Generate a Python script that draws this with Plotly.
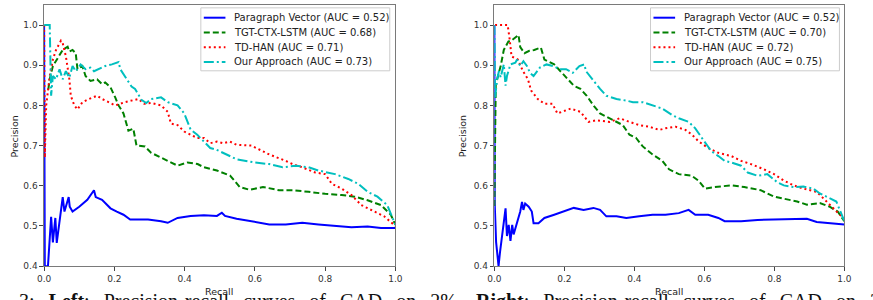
import plotly.graph_objects as go

# ---------------- data ----------------
labels_left = ["Paragraph Vector (AUC = 0.52)", "TGT-CTX-LSTM (AUC = 0.68)",
               "TD-HAN (AUC = 0.71)", "Our Approach (AUC = 0.73)"]
labels_right = ["Paragraph Vector (AUC = 0.52)", "TGT-CTX-LSTM (AUC = 0.70)",
                "TD-HAN (AUC = 0.72)", "Our Approach (AUC = 0.75)"]

# Left panel
L_pv_r = [0, 0.002, 0.011, 0.02, 0.025, 0.032, 0.036, 0.053, 0.058, 0.07, 0.073, 0.081, 0.10, 0.123,
          0.142, 0.147, 0.165, 0.189, 0.207, 0.226, 0.245, 0.296, 0.333, 0.352, 0.38, 0.417, 0.455,
          0.492, 0.506, 0.515, 0.548, 0.585, 0.641, 0.688, 0.735, 0.781, 0.828, 0.875, 0.921, 0.959, 1.0]
L_pv_p = [1.0, 0.40, 0.40, 0.523, 0.459, 0.52, 0.458, 0.572, 0.536, 0.572, 0.548, 0.536, 0.548, 0.565,
          0.589, 0.572, 0.565, 0.544, 0.536, 0.528, 0.516, 0.516, 0.512, 0.508, 0.52, 0.525, 0.527,
          0.525, 0.533, 0.525, 0.518, 0.512, 0.504, 0.504, 0.508, 0.504, 0.501, 0.497, 0.499, 0.495, 0.495]

L_tgt_r = [0.012, 0.016, 0.025, 0.039, 0.053, 0.067, 0.072, 0.081, 0.09, 0.095, 0.109, 0.118, 0.132,
           0.151, 0.165, 0.174, 0.189, 0.2025, 0.212, 0.226, 0.24, 0.254, 0.263, 0.287, 0.305, 0.352,
           0.38, 0.408, 0.437, 0.455, 0.492, 0.53, 0.557, 0.585, 0.623, 0.669, 0.707, 0.753, 0.8,
           0.847, 0.884, 0.921, 0.959, 0.987, 1.0]
L_tgt_p = [0.84, 0.865, 0.898, 0.918, 0.938, 0.946, 0.934, 0.938, 0.93, 0.89, 0.898, 0.873, 0.861,
           0.865, 0.853, 0.857, 0.845, 0.82, 0.80, 0.78, 0.737, 0.742, 0.70, 0.698, 0.682, 0.662,
           0.65, 0.658, 0.654, 0.646, 0.638, 0.625, 0.597, 0.59, 0.597, 0.589, 0.589, 0.585, 0.58,
           0.577, 0.573, 0.564, 0.552, 0.528, 0.503]

L_td_r = [0, 0.002, 0.006, 0.011, 0.016, 0.025, 0.034, 0.048, 0.053, 0.062, 0.067, 0.072, 0.076, 0.086,
          0.095, 0.109, 0.128, 0.151, 0.165, 0.184, 0.2025, 0.23, 0.268, 0.285, 0.305, 0.333, 0.352,
          0.361, 0.38, 0.399, 0.417, 0.436, 0.455, 0.473, 0.492, 0.51, 0.529, 0.548, 0.59, 0.641,
          0.688, 0.707, 0.735, 0.772, 0.8, 0.819, 0.847, 0.875, 0.903, 0.93, 0.968, 1.0]
L_td_p = [1.0, 0.67, 0.80, 0.84, 0.873, 0.914, 0.938, 0.961, 0.955, 0.922, 0.898, 0.865, 0.824, 0.80,
          0.79, 0.808, 0.816, 0.824, 0.816, 0.808, 0.80, 0.808, 0.816, 0.804, 0.806, 0.80, 0.784,
          0.755, 0.751, 0.735, 0.727, 0.719, 0.719, 0.706, 0.71, 0.706, 0.71, 0.702, 0.70, 0.678,
          0.662, 0.654, 0.646, 0.633, 0.629, 0.605, 0.593, 0.577, 0.552, 0.54, 0.524, 0.50]

L_our_r = [0, 0.016, 0.02, 0.025, 0.034, 0.044, 0.053, 0.062, 0.072, 0.081, 0.09, 0.104, 0.118, 0.132,
           0.142, 0.156, 0.174, 0.193, 0.212, 0.217, 0.235, 0.249, 0.259, 0.277, 0.291, 0.305, 0.333,
           0.352, 0.38, 0.399, 0.417, 0.436, 0.455, 0.473, 0.49, 0.548, 0.6, 0.641, 0.679, 0.716,
           0.753, 0.781, 0.828, 0.866, 0.894, 0.921, 0.949, 0.977, 1.0]
L_our_p = [1.0, 1.0, 0.824, 0.873, 0.865, 0.89, 0.865, 0.885, 0.869, 0.898, 0.885, 0.902, 0.89, 0.894,
           0.885, 0.89, 0.898, 0.902, 0.908, 0.89, 0.865, 0.847, 0.841, 0.814, 0.806, 0.816, 0.82,
           0.808, 0.80, 0.78, 0.74, 0.727, 0.71, 0.694, 0.69, 0.666, 0.658, 0.654, 0.646, 0.65,
           0.646, 0.638, 0.629, 0.617, 0.605, 0.585, 0.573, 0.552, 0.503]

# Right panel
R_pv_r = [0, 0.001, 0.005, 0.012, 0.016, 0.022, 0.032, 0.036, 0.041, 0.046, 0.051, 0.055, 0.065, 0.074,
          0.079, 0.083, 0.088, 0.098, 0.107, 0.112, 0.126, 0.143, 0.171, 0.208, 0.227, 0.255, 0.283,
          0.302, 0.32, 0.349, 0.377, 0.414, 0.452, 0.489, 0.527, 0.555, 0.574, 0.611, 0.64, 0.658,
          0.705, 0.752, 0.799, 0.846, 0.893, 0.921, 0.958, 1.0]
R_pv_p = [1.0, 0.556, 0.46, 0.40, 0.434, 0.475, 0.544, 0.475, 0.503, 0.463, 0.503, 0.479, 0.51, 0.536,
          0.56, 0.54, 0.556, 0.548, 0.536, 0.507, 0.507, 0.52, 0.528, 0.54, 0.545, 0.54, 0.545,
          0.54, 0.524, 0.524, 0.52, 0.524, 0.528, 0.528, 0.532, 0.54, 0.528, 0.528, 0.52, 0.512,
          0.512, 0.515, 0.516, 0.518, 0.518, 0.51, 0.508, 0.504]

R_tgt_r = [0, 0.004, 0.008, 0.018, 0.027, 0.04, 0.051, 0.069, 0.074, 0.086, 0.1, 0.114, 0.133, 0.143,
           0.171, 0.189, 0.208, 0.227, 0.246, 0.264, 0.283, 0.302, 0.32, 0.349, 0.367, 0.386, 0.405,
           0.424, 0.452, 0.48, 0.499, 0.527, 0.564, 0.583, 0.602, 0.63, 0.677, 0.714, 0.761, 0.799,
           0.837, 0.865, 0.893, 0.93, 0.958, 0.981, 1.0]
R_tgt_p = [0.55, 0.85, 0.865, 0.898, 0.938, 0.959, 0.963, 0.975, 0.945, 0.93, 0.936, 0.938, 0.944, 0.914,
           0.902, 0.885, 0.865, 0.849, 0.841, 0.824, 0.80, 0.78, 0.772, 0.759, 0.751, 0.727, 0.719,
           0.698, 0.678, 0.662, 0.641, 0.629, 0.625, 0.613, 0.593, 0.597, 0.601, 0.597, 0.589, 0.573,
           0.565, 0.561, 0.553, 0.557, 0.548, 0.536, 0.512]

R_td_r = [0.002, 0.038, 0.044, 0.049, 0.067, 0.082, 0.096, 0.105, 0.124, 0.143, 0.166, 0.18, 0.218,
          0.246, 0.269, 0.292, 0.33, 0.358, 0.386, 0.414, 0.442, 0.471, 0.489, 0.518, 0.546, 0.565,
          0.583, 0.602, 0.611, 0.64, 0.677, 0.705, 0.733, 0.77, 0.799, 0.827, 0.855, 0.883, 0.921,
          0.949, 0.968, 0.987, 1.0]
R_td_p = [1.0, 1.0, 0.963, 0.922, 0.914, 0.885, 0.865, 0.837, 0.816, 0.804, 0.804, 0.78, 0.792,
          0.784, 0.759, 0.763, 0.759, 0.768, 0.759, 0.751, 0.747, 0.739, 0.743, 0.747, 0.739, 0.727,
          0.711, 0.698, 0.694, 0.682, 0.674, 0.662, 0.654, 0.641, 0.629, 0.613, 0.601, 0.593, 0.585,
          0.561, 0.544, 0.528, 0.52]

R_our_r = [0, 0.002, 0.008, 0.013, 0.018, 0.027, 0.032, 0.036, 0.046, 0.06, 0.065, 0.074, 0.083, 0.093,
           0.102, 0.112, 0.13, 0.149, 0.168, 0.187, 0.205, 0.224, 0.243, 0.257, 0.262, 0.28, 0.302,
           0.32, 0.349, 0.377, 0.396, 0.424, 0.452, 0.48, 0.508, 0.527, 0.555, 0.574, 0.593, 0.611,
           0.62, 0.64, 0.658, 0.677, 0.705, 0.724, 0.752, 0.78, 0.808, 0.827, 0.855, 0.883, 0.911,
           0.93, 0.958, 0.977, 1.0]
R_our_p = [1.0, 0.82, 0.865, 0.885, 0.87, 0.902, 0.849, 0.873, 0.902, 0.906, 0.914, 0.898, 0.91, 0.898,
           0.881, 0.873, 0.894, 0.902, 0.898, 0.89, 0.89, 0.881, 0.898, 0.902, 0.885, 0.865, 0.841,
           0.824, 0.816, 0.812, 0.808, 0.808, 0.80, 0.792, 0.776, 0.768, 0.759, 0.743, 0.719, 0.698,
           0.686, 0.674, 0.662, 0.658, 0.65, 0.633, 0.625, 0.629, 0.609, 0.601, 0.597, 0.598, 0.593,
           0.581, 0.569, 0.561, 0.512]

x_ticks = [0.0, 0.2, 0.4, 0.6, 0.8, 1.0]
y_ticks = [0.4, 0.5, 0.6, 0.7, 0.8, 0.9, 1.0]
caption_words = ["3:", "<b>Left</b>:", "Precision-recall", "curves", "of", "CAD", "on", "2%.",
                 "<b>Right</b>:", "Precision-recall", "curves", "of", "CAD", "on", "2"]

# ---------------- styling ----------------
W, H = 873, 300
colors = ["#0000ff", "#008000", "#ff0000", "#00bfbf"]
dashes = ["solid", "6px,3px", "2px,3px", "10px,3px,2px,3px"]
FONT = "DejaVu Sans"

fig = go.Figure()
left = [(L_pv_r, L_pv_p), (L_tgt_r, L_tgt_p), (L_td_r, L_td_p), (L_our_r, L_our_p)]
right = [(R_pv_r, R_pv_p), (R_tgt_r, R_tgt_p), (R_td_r, R_td_p), (R_our_r, R_our_p)]
for i, (r, p) in enumerate(left):
    fig.add_trace(go.Scatter(x=r, y=p, mode="lines", name=labels_left[i], showlegend=False,
                             line=dict(color=colors[i], width=2, dash=dashes[i]),
                             xaxis="x", yaxis="y"))
for i, (r, p) in enumerate(right):
    fig.add_trace(go.Scatter(x=r, y=p, mode="lines", name=labels_right[i], showlegend=False,
                             line=dict(color=colors[i], width=2, dash=dashes[i]),
                             xaxis="x2", yaxis="y2"))

y_dom = [1 - 270.7 / H, 1 - 5 / H]
axis_common = dict(showgrid=False, zeroline=False, showline=True, mirror=True,
                   linecolor="#7a7a7a", linewidth=1.2, ticks="outside", ticklen=3.5,
                   tickcolor="#444", tickfont=dict(family=FONT, size=9, color="#333"),
                   tickformat=".1f")
fig.update_layout(
    width=W, height=H, margin=dict(l=0, r=0, t=0, b=0),
    paper_bgcolor="white", plot_bgcolor="white", showlegend=False,
    xaxis=dict(domain=[37.7 / W, 394.7 / W], range=[0, 1], tickvals=x_ticks, anchor="y", **axis_common),
    yaxis=dict(domain=y_dom, range=[0.4, 1.05], tickvals=y_ticks, anchor="x", **axis_common),
    xaxis2=dict(domain=[495.3 / W, 851 / W], range=[0, 1], tickvals=x_ticks, anchor="y2", **axis_common),
    yaxis2=dict(domain=y_dom, range=[0.4, 1.05], tickvals=y_ticks, anchor="x2", **axis_common),
)

# ---- legend boxes (matplotlib-style, drawn in pixel-derived paper coords) ----
def px(x):
    return x / W


def py(y):
    return 1 - y / H


legend_specs = [(197, 389, 200, 229, labels_left), (654, 846, 657, 686, labels_right)]
row_y = [18, 33, 48, 63]
for box_l, box_r, samp_l, text_l, labs in legend_specs:
    fig.add_shape(type="rect", xref="paper", yref="paper", x0=px(box_l), x1=px(box_r),
                  y0=py(72), y1=py(8), fillcolor="rgba(255,255,255,0.9)",
                  line=dict(color="#cccccc", width=1), layer="above")
    for i, lab in enumerate(labs):
        fig.add_shape(type="line", xref="paper", yref="paper", x0=px(samp_l), x1=px(samp_l + 22),
                      y0=py(row_y[i]), y1=py(row_y[i]),
                      line=dict(color=colors[i], width=2, dash=dashes[i]), layer="above")
        fig.add_annotation(text=lab, x=px(text_l), y=py(row_y[i]), xref="paper", yref="paper",
                           showarrow=False, xanchor="left", yanchor="middle",
                           font=dict(family=FONT, size=10, color="#222"))

# justified-looking caption (cut off at the bottom edge, as in the reference)
caption = ("\u00a0\u2009 ").join(caption_words)
fig.add_annotation(text=caption, x=px(10), y=py(293), xref="paper", yref="paper",
                   showarrow=False, xanchor="left", yanchor="top",
                   font=dict(family="Liberation Serif", size=20, color="#111"))

ann_font = dict(family=FONT, size=9.5, color="#222")
for xc in (215, 672.7):
    fig.add_annotation(text="Recall", x=px(xc), y=py(296), xref="paper", yref="paper",
                       showarrow=False, font=ann_font, xanchor="center", yanchor="middle")
for xc in (8, 463):
    fig.add_annotation(text="Precision", x=px(xc), y=py(139), xref="paper", yref="paper",
                       showarrow=False, font=ann_font, textangle=-90, xanchor="center", yanchor="middle")

fig.write_html("out.html")
